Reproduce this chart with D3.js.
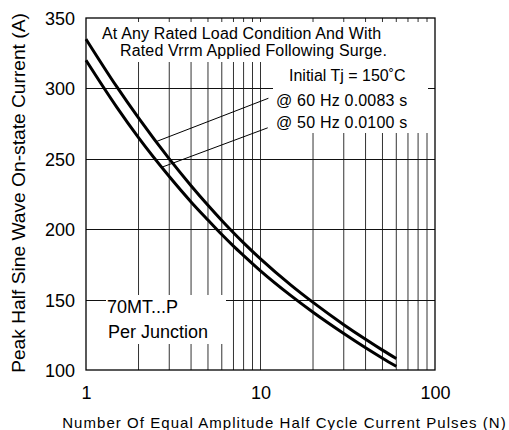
<!DOCTYPE html>
<html>
<head>
<meta charset="utf-8">
<script src="https://cdn.jsdelivr.net/npm/d3@7"></script>
<style>
  html, body { margin: 0; padding: 0; background: #fff; }
  svg { display: block; }
  text { font-family: "Liberation Sans", Arial, Helvetica, sans-serif; fill: #000; }
</style>
</head>
<body>
<svg id="chart" width="509" height="430"></svg>
<script>
// ---- data ----
const pulses = [1, 1.5, 2, 3, 4, 5, 6, 7, 8, 10, 15, 20, 30, 40, 50, 60];
const current60Hz = [335, 301.2, 279, 249.9, 230.9, 217, 206.2, 197.5, 190.3, 178.9, 160.1, 148, 132.2, 121.8, 114.1, 108.1];
const current50Hz = [320, 286.7, 265, 237.4, 219.4, 206.5, 196.2, 188, 181.3, 170.4, 152.6, 141, 125.9, 115.8, 108.4, 102.6];
const xTicks = [1, 10, 100];
const xMinorTicks = [2, 3, 4, 5, 6, 7, 8, 9, 20, 30, 40, 50, 60, 70, 80, 90];
const yTicks = [100, 150, 200, 250, 300, 350];
const xDomain = [1, 100];
const yDomain = [100, 350];
const noteTop = ["At Any Rated Load Condition And With", "Rated Vrrm Applied Following Surge."];
const noteRight = ["Initial Tj = 150˚C", "@ 60 Hz 0.0083 s", "@ 50 Hz 0.0100 s"];
const noteBottom = ["70MT...P", "Per Junction"];
// leader lines: [N, current] from curve to label
const leader60 = [[2.5, 262], [11.1, 293]];
const leader50 = [[2.72, 244], [11.0, 272]];
const xTitle = "Number Of Equal Amplitude Half Cycle Current Pulses (N)";
const yTitle = "Peak Half Sine Wave On-state Current (A)";

// ---- layout ----
const svg = d3.select("#chart");
const L = 86, R = 435, T = 18, B = 370;
const x = d3.scaleLog().domain(xDomain).range([L, R]);
const y = d3.scaleLinear().domain(yDomain).range([B, T]);

const g = svg.append("g");

// gridlines
g.selectAll("line.vgrid").data(xMinorTicks.concat([10])).join("line")
  .attr("x1", d => x(d)).attr("x2", d => x(d))
  .attr("y1", T).attr("y2", B)
  .attr("stroke", "#333").attr("stroke-width", 1);
g.selectAll("line.hgrid").data(yTicks.slice(1, -1)).join("line")
  .attr("x1", L).attr("x2", R)
  .attr("y1", d => Math.round(y(d)) + 0.5).attr("y2", d => Math.round(y(d)) + 0.5)
  .attr("stroke", "#111").attr("stroke-width", 1);

// white boxes behind annotations
const boxes = [
  [96, 22, 433, 62],
  [272, 62, 433, 86],
  [273, 86, 437, 133],
  [106, 295, 226, 344]
];
g.selectAll("rect.box").data(boxes).join("rect")
  .attr("x", d => d[0]).attr("y", d => d[1])
  .attr("width", d => d[2] - d[0]).attr("height", d => d[3] - d[1])
  .attr("fill", "#fff");

// inward ticks on right side
g.selectAll("line.rtick").data(yTicks.slice(1, -1)).join("line")
  .attr("x1", R - 7).attr("x2", R)
  .attr("y1", d => Math.round(y(d)) + 0.5).attr("y2", d => Math.round(y(d)) + 0.5)
  .attr("stroke", "#111").attr("stroke-width", 1);

// frame
g.append("rect").attr("x", L).attr("y", T).attr("width", R - L).attr("height", B - T)
  .attr("fill", "none").attr("stroke", "#000").attr("stroke-width", 1.3);

// leader lines
const leaderLine = d3.line().x(d => x(d[0])).y(d => y(d[1]));
[leader60, leader50].forEach(ld => {
  g.append("path").attr("d", leaderLine(ld)).attr("fill", "none")
    .attr("stroke", "#000").attr("stroke-width", 1);
});

// curves
const curve = d3.line().curve(d3.curveMonotoneX).x(d => x(d[0])).y(d => y(d[1]));
[current60Hz, current50Hz].forEach(vals => {
  g.append("path").attr("d", curve(pulses.map((p, i) => [p, vals[i]])))
    .attr("fill", "none").attr("stroke", "#000").attr("stroke-width", 3)
    .attr("stroke-linejoin", "round");
});

// axes
const yAxis = d3.axisLeft(y).tickValues(yTicks).tickSize(0).tickPadding(11).tickFormat(d3.format("d"));
const ya = svg.append("g").attr("transform", `translate(${L},0)`).call(yAxis);
ya.select(".domain").remove();
ya.selectAll("text").style("font-size", "18px").attr("dy", "0.36em")
  .style("font-family", '"Liberation Sans", Arial, sans-serif');

const xAxis = d3.axisBottom(x).tickValues(xTicks).tickSize(0).tickPadding(16).tickFormat(d3.format("d"));
const xa = svg.append("g").attr("transform", `translate(0,${B})`).call(xAxis);
xa.select(".domain").remove();
xa.selectAll("text").style("font-size", "18px")
  .style("font-family", '"Liberation Sans", Arial, sans-serif');

// annotations
const ann = svg.append("g").style("font-size", "16px");
ann.append("text").attr("x", 102).attr("y", 39).style("letter-spacing", "0.15px").text(noteTop[0]);
ann.append("text").attr("x", 120).attr("y", 56).style("letter-spacing", "0.15px").text(noteTop[1]);
ann.append("text").attr("x", 289).attr("y", 80.5).text(noteRight[0]);
ann.append("text").attr("x", 276).attr("y", 106).style("letter-spacing", "0.2px").text(noteRight[1]);
ann.append("text").attr("x", 276).attr("y", 128).style("letter-spacing", "0.2px").text(noteRight[2]);
ann.append("text").attr("x", 107).attr("y", 313).style("font-size", "18px").text(noteBottom[0]);
ann.append("text").attr("x", 108).attr("y", 338).style("font-size", "18px").text(noteBottom[1]);

// axis titles
svg.append("text").attr("x", 284.5).attr("y", 428).attr("text-anchor", "middle")
  .style("font-size", "15px").style("letter-spacing", "1.05px").text(xTitle);
svg.append("text").attr("transform", "translate(25,193) rotate(-90)").attr("text-anchor", "middle")
  .style("font-size", "19.2px").text(yTitle);
</script>
</body>
</html>
